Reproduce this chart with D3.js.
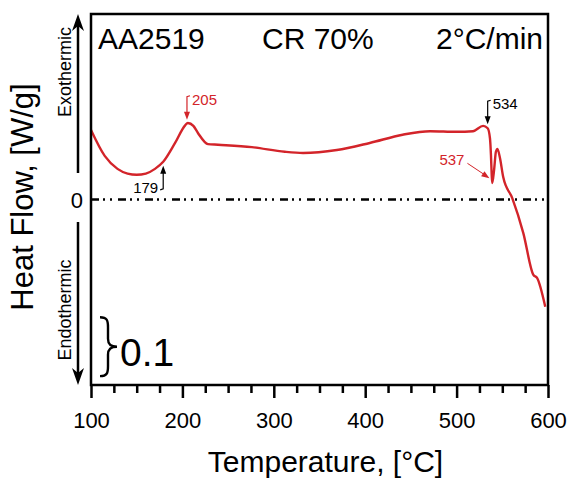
<!DOCTYPE html>
<html>
<head>
<meta charset="utf-8">
<script src="https://cdn.jsdelivr.net/npm/d3@7"></script>
<style>
  body { margin: 0; background: #fff; }
  svg text { font-family: 'Liberation Sans', Arial, sans-serif; }
</style>
</head>
<body>
<div id="chart"></div>
<script>
// DSC curve, AA2519 CR 70%, 2 C/min
const temperature = [100, 115, 129, 140, 150, 160, 170, 179, 192, 203, 206, 212, 217, 228, 239, 276, 312, 332, 369, 405, 441, 471, 500, 518, 529, 534,
  536.5, 537.6, 538.4, 539, 541, 543, 544.7, 547.5, 551, 561, 573, 584, 588, 597]
const heatFlow = [0.118, 0.074, 0.052, 0.044, 0.042, 0.044, 0.052, 0.064, 0.096, 0.126, 0.130, 0.125, 0.113, 0.094, 0.093, 0.089, 0.081, 0.079, 0.084, 0.096, 0.110, 0.116, 0.115, 0.116, 0.125, 0.121,
  0.104, 0.075, 0.042, 0.028, 0.050, 0.081, 0.086, 0.070, 0.038, 0.002, -0.057, -0.128, -0.133, -0.182]
const xTicks = [100, 200, 300, 400, 500, 600]
const titles = ['AA2519', 'CR 70%', '2°C/min']
const peakTemps = [179, 205, 534, 537]
const scaleBar = [-0.2, -0.3]

const w = 570, h = 480
const margin = { left: 91, right: 22, top: 14, bottom: 95 }
const red = '#d3242a'

let svg = d3.select('#chart').append('svg')
  .attr('width', w).attr('height', h)

let x = d3.scaleLinear().domain([100, 600]).range([margin.left, w - margin.right])
let y = d3.scaleLinear().domain([-0.315, 0.315]).range([h - margin.bottom, margin.top])

let data = temperature.map((t, i) => ({ t: t, v: heatFlow[i] }))
let valAt = t => {
  let i = d3.bisector(d => d.t).left(data, t)
  if (i <= 0) return data[0].v
  let a = data[i - 1], b = data[i]
  return a.v + (b.v - a.v) * (t - a.t) / (b.t - a.t)
}

// zero line
svg.append('line')
  .attr('x1', x(100)).attr('x2', x(600))
  .attr('y1', y(0)).attr('y2', y(0))
  .attr('stroke', '#000').attr('stroke-width', 2.5)
  .attr('stroke-dasharray', '8,4,2,5,2,6')
svg.append('text').text('0')
  .attr('x', 83).attr('y', y(0) + 8)
  .attr('text-anchor', 'end').attr('font-size', '22px')

// curve
svg.append('path').datum(data)
  .attr('d', d3.line().x(d => x(d.t)).y(d => y(d.v)).curve(d3.curveMonotoneX))
  .attr('fill', 'none').attr('stroke', red).attr('stroke-width', 2.4)

// frame
svg.append('rect')
  .attr('x', x(100)).attr('y', y(0.315))
  .attr('width', x(600) - x(100)).attr('height', y(-0.315) - y(0.315))
  .attr('fill', 'none').attr('stroke', '#000').attr('stroke-width', 2.5)

// x axis
let xAxis = svg.append('g')
  .attr('transform', `translate(0,${y(-0.315)})`)
  .call(d3.axisBottom(x).tickValues(xTicks).tickSize(13).tickPadding(14).tickFormat(d3.format('d')))
xAxis.select('.domain').remove()
xAxis.selectAll('line').attr('stroke-width', 2.5)
xAxis.selectAll('text').attr('font-size', '22px')
let minor = svg.append('g')
  .attr('transform', `translate(0,${y(-0.315)})`)
  .call(d3.axisBottom(x).tickValues(d3.range(125, 600, 25).filter(d => d % 100)).tickSize(8).tickFormat(''))
minor.select('.domain').remove()
minor.selectAll('line').attr('stroke-width', 2.5)

svg.append('text').text('Temperature, [°C]')
  .attr('x', (x(100) + x(600)) / 2 + 6).attr('y', 472)
  .attr('text-anchor', 'middle').attr('font-size', '30px')
svg.append('text').text('Heat Flow, [W/g]')
  .attr('transform', 'translate(33,197) rotate(-90)')
  .attr('text-anchor', 'middle').attr('font-size', '31px')

// titles
let titleX = [98, 262, 543]
let titleAnchor = ['start', 'start', 'end']
svg.selectAll('text.title').data(titles).enter().append('text')
  .classed('title', true).text(d => d)
  .attr('x', (d, i) => titleX[i]).attr('y', 49)
  .attr('text-anchor', (d, i) => titleAnchor[i])
  .attr('font-size', '30px')

// exo / endo arrows
let arrowHead = (g, xx, tip, dir) => {
  g.append('path')
    .attr('d', `M${xx},${tip} L${xx - 6},${tip - dir * 17} L${xx},${tip - dir * 12} L${xx + 6},${tip - dir * 17} Z`)
    .attr('fill', '#000')
}
svg.append('line').attr('x1', 78).attr('x2', 78).attr('y1', 173).attr('y2', 20)
  .attr('stroke', '#000').attr('stroke-width', 2.5)
arrowHead(svg, 78, 14, -1)
svg.append('line').attr('x1', 78).attr('x2', 78).attr('y1', 222).attr('y2', 378)
  .attr('stroke', '#000').attr('stroke-width', 2.5)
arrowHead(svg, 78, 385, 1)
svg.append('text').text('Exothermic')
  .attr('transform', 'translate(71,72) rotate(-90)')
  .attr('text-anchor', 'middle').attr('font-size', '18px')
svg.append('text').text('Endothermic')
  .attr('transform', 'translate(71,310) rotate(-90)')
  .attr('text-anchor', 'middle').attr('font-size', '18px')

// scale bar brace
let bt = y(scaleBar[0]), bb = y(scaleBar[1]), bm = (bt + bb) / 2
svg.append('path')
  .attr('d', `M100,${bt} C107,${bt} 108,${bt + 3} 108,${bt + 10} L108,${bm - 8} C108,${bm - 2} 111,${bm} 117,${bm}
    C111,${bm} 108,${bm + 2} 108,${bm + 8} L108,${bb - 10} C108,${bb - 3} 107,${bb} 100,${bb}`)
  .attr('fill', 'none').attr('stroke', '#000').attr('stroke-width', 2.4)
svg.append('text').text(d3.format('.1f')(scaleBar[0] - scaleBar[1]))
  .attr('x', 120).attr('y', bb - 10).attr('font-size', '39px')

// peak annotations
let smallHead = (g, xx, yy, ang, col) => {
  g.append('path')
    .attr('d', 'M0,0 L-8,-3 L-8,3 Z')
    .attr('transform', `translate(${xx},${yy}) rotate(${ang})`)
    .attr('fill', col)
}
let ann = svg.append('g')
peakTemps.forEach((t, i) => {
  let px = x(t), py = y(valAt(t))
  if (i === 0) {
    // 179, up arrow below curve
    let tip = py + 4
    ann.append('path').attr('d', `M${px - 3},${tip + 24} L${px},${tip + 23} L${px},${tip + 6}`)
      .attr('fill', 'none').attr('stroke', '#000').attr('stroke-width', 1.2)
    smallHead(ann, px, tip, -90, '#000')
    ann.append('text').text(t).attr('x', px - 5).attr('y', tip + 27)
      .attr('text-anchor', 'end').attr('font-size', '15px')
  } else if (i === 1 || i === 2) {
    let col = i === 1 ? red : '#000'
    let tip = py - 4
    ann.append('path').attr('d', `M${px + 3},${tip - 24} L${px},${tip - 23} L${px},${tip - 6}`)
      .attr('fill', 'none').attr('stroke', col).attr('stroke-width', 1.2)
    smallHead(ann, px, tip, 90, col)
    ann.append('text').text(t).attr('x', px + 5).attr('y', tip - 15)
      .attr('fill', col).attr('font-size', '15px')
  } else {
    let tipX = px - 1, tipY = y(0.036)
    ann.append('line').attr('x1', tipX - 22).attr('y1', tipY - 15).attr('x2', tipX - 4).attr('y2', tipY - 3)
      .attr('stroke', red).attr('stroke-width', 1)
    smallHead(ann, tipX, tipY, Math.atan2(15, 22) * 180 / Math.PI, red)
    ann.append('text').text(t).attr('x', tipX - 25).attr('y', tipY - 13)
      .attr('text-anchor', 'end').attr('fill', red).attr('font-size', '15px')
  }
})
</script>
</body>
</html>
